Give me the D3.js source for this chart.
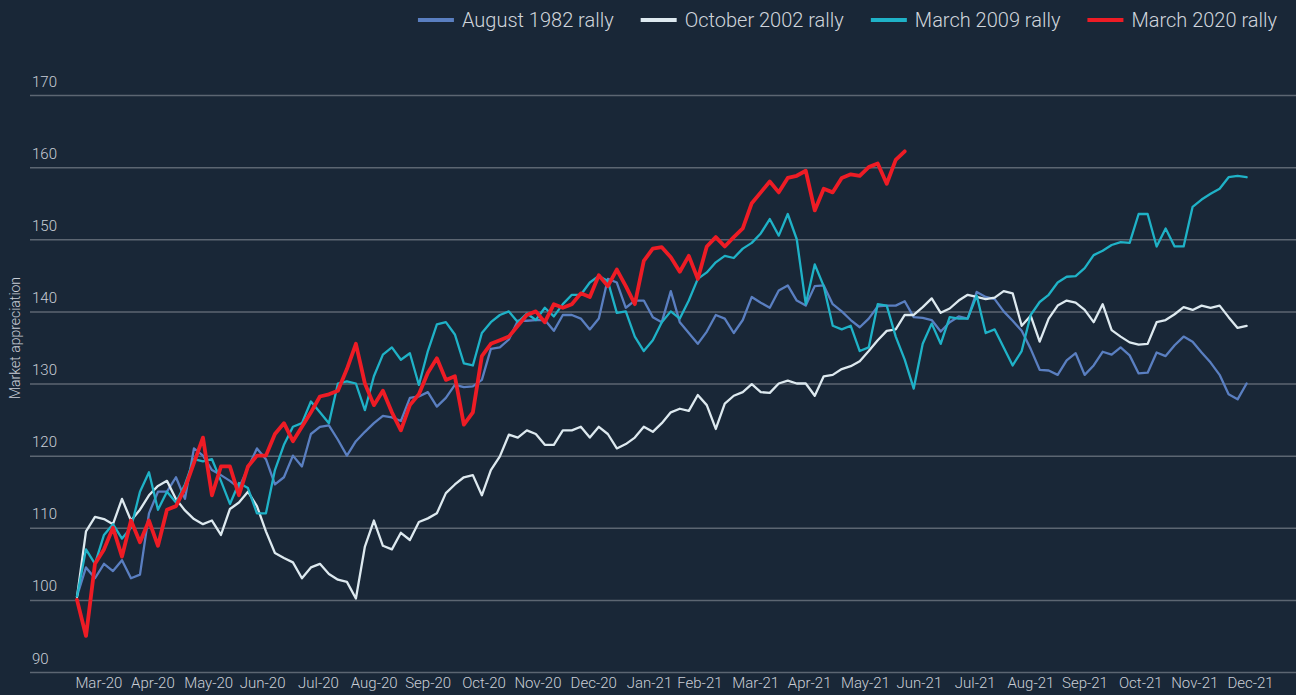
<!DOCTYPE html>
<html>
<head>
<meta charset="utf-8">
<script src="https://cdn.jsdelivr.net/npm/d3@7"></script>
<style>
  html, body { margin: 0; padding: 0; background: #192737; overflow: hidden; }
  svg { display: block; font-family: Roboto, "Open Sans", sans-serif; font-weight: 300; }
</style>
</head>
<body>
<script>

// month labels along the bottom
const months = ['Mar-20', 'Apr-20', 'May-20', 'Jun-20', 'Jul-20', 'Aug-20', 'Sep-20', 'Oct-20',
    'Nov-20', 'Dec-20', 'Jan-21', 'Feb-21', 'Mar-21', 'Apr-21', 'May-21', 'Jun-21', 'Jul-21',
    'Aug-21', 'Sep-21', 'Oct-21', 'Nov-21', 'Dec-21'];

const yTicks = [90, 100, 110, 120, 130, 140, 150, 160, 170];

const seriesNames = ['August 1982 rally', 'October 2002 rally', 'March 2009 rally', 'March 2020 rally'];

// values, one every 5 days starting 19 Mar 2020
const rally1982 = [
    100.5, 104.5, 103, 105, 104, 105.5, 103, 103.5, 112, 115,
    115, 117, 114, 121, 120, 118, 117.3, 116.5, 115.5, 118.3,
    121, 119.5, 116, 117, 120, 118.5, 123, 124, 124.2, 122.2,
    120, 122, 123.3, 124.5, 125.5, 125.3, 124.8, 128, 128.2, 128.8,
    126.8, 128, 129.8, 129.5, 129.6, 130.5, 134.8, 135, 136.1, 138.7,
    138.7, 138.8, 138.8, 137.3, 139.5, 139.5, 139, 137.5, 139, 144.5,
    144, 140.5, 141.5, 141.5, 139.2, 138.5, 142.8, 138.5, 137, 135.5,
    137.2, 139.5, 139, 137, 138.8, 142, 141.2, 140.5, 142.9, 143.6,
    141.5, 140.8, 143.5, 143.6, 141, 140, 138.8, 137.8, 139, 140.7,
    140.8, 140.8, 141.4, 139.2, 139.1, 138.8, 137.2, 138.5, 139.3, 139,
    142.7, 142, 141.7, 140, 138.7, 137.3, 134.8, 131.9, 131.8, 131.2,
    133.2, 134.2, 131.2, 132.5, 134.4, 134, 135, 133.9, 131.4, 131.5,
    134.3, 133.8, 135.3, 136.5, 135.8, 134.3, 132.9, 131.2, 128.5, 127.8,
    130
];

const rally2002 = [
    100.4, 109.5, 111.5, 111.2, 110.5, 114, 111, 112.5, 114.5, 115.8,
    116.5, 114, 112.4, 111.2, 110.5, 111, 109, 112.6, 113.5, 115,
    113, 109.5, 106.5, 105.8, 105.2, 103, 104.5, 105, 103.6, 102.8,
    102.5, 100.2, 107.4, 111, 107.5, 107, 109.3, 108.3, 110.8, 111.3,
    112, 114.8, 116, 117, 117.3, 114.5, 118, 119.9, 122.9, 122.5,
    123.5, 123, 121.5, 121.5, 123.5, 123.5, 124, 122.5, 124, 123,
    121, 121.6, 122.5, 124, 123.3, 124.5, 126, 126.5, 126.2, 128.4,
    127, 123.7, 127.2, 128.3, 128.8, 129.9, 128.8, 128.7, 130, 130.4,
    130, 130, 128.3, 131, 131.2, 132, 132.4, 133.1, 134.5, 136,
    137.3, 137.5, 139.5, 139.5, 140.6, 141.8, 139.8, 140.4, 141.5, 142.3,
    142, 141.7, 141.9, 142.8, 142.5, 138, 139.4, 135.8, 139, 140.8,
    141.5, 141.2, 140.2, 138.5, 141, 137.4, 136.5, 135.7, 135.4, 135.5,
    138.5, 138.8, 139.6, 140.6, 140.2, 140.8, 140.5, 140.8, 139.2, 137.7,
    138
];

const rally2009 = [
    100.5, 107, 105, 109, 110.5, 108.5, 110, 115, 117.7, 112.5,
    115, 113.5, 116, 119.5, 119.2, 119.5, 116.5, 113.3, 116.2, 115.5,
    112, 112, 118, 121.5, 124, 124.5, 127.5, 126, 124.5, 130,
    130.3, 130, 126.3, 131, 134, 135, 133.3, 134.2, 129.8, 134.5,
    138.2, 138.5, 136.8, 132.8, 132.5, 137, 138.5, 139.5, 140, 138.5,
    139.7, 138.8, 140.5, 139.3, 141, 142.3, 142.3, 144, 144.9, 144.2,
    139.8, 140, 136.5, 134.5, 136, 138.5, 140, 139, 141.5, 144.5,
    145.4, 146.8, 147.7, 147.4, 148.7, 149.5, 150.8, 152.8, 150.5, 153.5,
    150, 141, 146.5, 143.5, 138, 137.5, 138, 134.5, 135, 141,
    140.8, 136.5, 133.3, 129.3, 135.5, 138.3, 135.5, 139.2, 139, 139,
    142.2, 137, 137.5, 135, 132.5, 134.5, 139.5, 141.3, 142.3, 144,
    144.8, 144.9, 146, 147.8, 148.4, 149.2, 149.6, 149.5, 153.5, 153.5,
    149, 151.5, 149, 149, 154.5, 155.5, 156.3, 157, 158.6, 158.8,
    158.6
];

const rally2020 = [
    100, 95, 105, 107, 110, 106, 111, 108, 111, 107.5,
    112.5, 113, 115.5, 119, 122.5, 114.5, 118.5, 118.5, 114.5, 118.5,
    120, 120, 123, 124.5, 122, 124, 126, 128.2, 128.5, 129,
    132, 135.5, 130, 127, 129, 126, 123.5, 127, 128.5, 131.5,
    133.5, 130.5, 131, 124.3, 126, 133.8, 135.5, 136, 136.5, 138,
    139.5, 140, 138.5, 141, 140.5, 141, 142.5, 142, 145, 143.5,
    145.8, 143.5, 141, 147, 148.7, 148.9, 147.5, 145.5, 147.7, 144.5,
    149, 150.3, 149, 150.3, 151.5, 155, 156.5, 158, 156.5, 158.5,
    158.8, 159.5, 154, 157, 156.5, 158.5, 159, 158.8, 160, 160.5,
    157.7, 161, 162.2
];

const seriesValues = [rally1982, rally2002, rally2009, rally2020];
const colors = ['#5a7fc1', '#dde9ef', '#1fb2c7', '#ee1c25'];
const widths = [2.3, 2.3, 2.3, 3.8];

const W = 1296, H = 695;
const start = new Date(2020, 2, 19);
const stepDays = 5;

const svg = d3.select('body').append('svg')
    .attr('width', W)
    .attr('height', H);

svg.append('rect').attr('width', W).attr('height', H).attr('fill', '#192737');

const x = d3.scaleTime()
    .domain([start, new Date(2022, 0, 1)])
    .range([77, 1252]);

const y = d3.scaleLinear()
    .domain([90, 170])
    .range([672, 95]);

// gridlines + y labels sitting above each line
const yAxis = svg.append('g')
    .attr('transform', 'translate(30,0)')
    .call(d3.axisRight(y).tickValues(yTicks).tickSize(W - 30).tickFormat(d3.format('d')));
yAxis.select('.domain').remove();
yAxis.selectAll('line').attr('stroke', '#5c6672').attr('stroke-width', 1.5);
yAxis.selectAll('text')
    .attr('x', 2)
    .attr('dy', -9)
    .attr('text-anchor', 'start')
    .attr('fill', '#c9ced6')
    .style('font-size', '15px')
    .style('font-family', 'Roboto, sans-serif')
    .style('font-weight', 300);

// month labels, centred at the end of each month
const monthEnds = d3.timeMonth.range(new Date(2020, 3, 1), new Date(2022, 0, 2));
const xAxis = svg.append('g')
    .attr('transform', 'translate(0,672)')
    .call(d3.axisBottom(x).tickValues(monthEnds).tickSize(0).tickFormat((d, i) => months[i]));
xAxis.select('.domain').remove();
xAxis.selectAll('text')
    .attr('y', 16)
    .attr('dy', 0)
    .attr('dx', -2)
    .attr('fill', '#c9ced6')
    .style('font-size', '15px')
    .style('font-family', 'Roboto, sans-serif')
    .style('font-weight', 300);

svg.append('text')
    .attr('transform', 'translate(20,338) rotate(-90)')
    .attr('text-anchor', 'middle')
    .attr('fill', '#c9ced6')
    .style('font-size', '14px')
    .text('Market appreciation');

const line = d3.line()
    .x((d, i) => x(d3.timeDay.offset(start, i * stepDays)))
    .y(d => y(d));

svg.append('g')
    .selectAll('path')
    .data(seriesValues)
    .join('path')
    .attr('d', d => line(d))
    .attr('fill', 'none')
    .attr('stroke', (d, i) => colors[i])
    .attr('stroke-width', (d, i) => widths[i])
    .attr('stroke-linejoin', 'round')
    .attr('stroke-linecap', 'round');

// legend, right aligned at the top
const legend = svg.append('g').attr('class', 'legend');
const items = legend.selectAll('g')
    .data(seriesNames)
    .join('g');
items.append('line')
    .attr('x1', 0).attr('x2', 36)
    .attr('y1', 0).attr('y2', 0)
    .attr('stroke', (d, i) => colors[i])
    .attr('stroke-width', 4);
items.append('text')
    .attr('x', 44)
    .attr('dy', '0.35em')
    .attr('fill', '#d0d5dc')
    .style('font-size', '20px')
    .text(d => d);

let cursor = 1277;
const nodes = items.nodes();
for (let i = nodes.length - 1; i >= 0; i--) {
    const tw = d3.select(nodes[i]).select('text').node().getComputedTextLength();
    cursor -= 44 + tw;
    d3.select(nodes[i]).attr('transform', `translate(${cursor},20)`);
    cursor -= 27;
}

</script>
</body>
</html>
